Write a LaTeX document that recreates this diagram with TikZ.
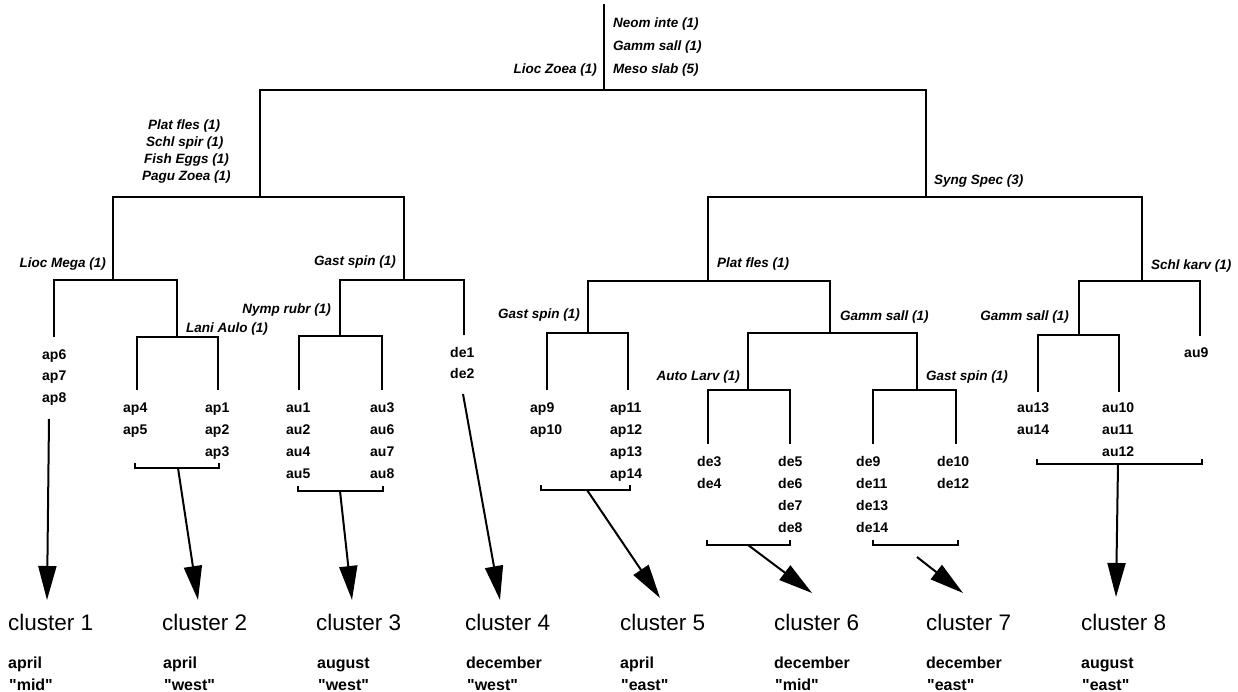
\documentclass[tikz,border=0pt]{standalone}
\usepackage{fontspec}
\usetikzlibrary{arrows.meta}
\newfontfamily\spfont{Liberation Sans}
\newcommand\leafcol[4]{\foreach \t [count=\i from 0] in {#4} \node[leaf] (\t) at (#1, {#2+5+#3*\i}) {\t};}
\begin{document}
\begin{tikzpicture}[x=1pt,y=-1pt,
  tree/.style={line width=2pt},
  arr/.style={line width=2pt,-{Triangle[length=34pt,width=18pt]}},
  lab/.style={font=\spfont\bfseries\itshape\fontsize{13.5}{15}\selectfont,inner sep=0pt},
  labl/.style={lab,anchor=base east},
  labr/.style={lab,anchor=base west},
  leaf/.style={font=\spfont\bfseries\fontsize{14}{16}\selectfont,inner sep=0pt,anchor=base west},
  cl/.style={font=\spfont\fontsize{22.5}{26}\selectfont,inner sep=0pt,anchor=base west},
  mo/.style={font=\spfont\bfseries\fontsize{16}{18}\selectfont,inner sep=0pt,anchor=base west}]
\useasboundingbox (0,0) rectangle (1238,692);
% junctions
\coordinate (Rtop) at (604,4);
\coordinate (R) at (604,90);
\coordinate (nL) at (260,197);
\coordinate (nS) at (926,197);
\coordinate (nLM) at (113,280);
\coordinate (nGS1) at (404,280);
\coordinate (nLA) at (177,337);
\coordinate (nNR) at (340,336);
\coordinate (nPF) at (708,281);
\coordinate (nSK) at (1142,281);
\coordinate (nGS2) at (588,333);
\coordinate (nGM1) at (830,333);
\coordinate (nAL) at (748,390);
\coordinate (nGS3) at (917,390);
\coordinate (nGM2) at (1079,335);
% leg ends
\coordinate (e-ap6) at (54,337);
\coordinate (e-ap4) at (137,390);
\coordinate (e-ap1) at (218,390);
\coordinate (e-au1) at (299,390);
\coordinate (e-au3) at (382,390);
\coordinate (e-de1) at (464,335);
\coordinate (e-ap9) at (547,390);
\coordinate (e-ap11) at (628,390);
\coordinate (e-de3) at (708,444);
\coordinate (e-de5) at (790,444);
\coordinate (e-de9) at (873,444);
\coordinate (e-de10) at (956,444);
\coordinate (e-au13) at (1038,392);
\coordinate (e-au10) at (1119,392);
\coordinate (e-au9) at (1200,336);
% tree
\draw[tree] (Rtop) -- (R);
\draw[tree] (R) -| (nL);
\draw[tree] (R) -| (nS);
\draw[tree] (nL) -| (nLM);
\draw[tree] (nL) -| (nGS1);
\draw[tree] (nLM) -| (e-ap6);
\draw[tree] (nLM) -| (nLA);
\draw[tree] (nLA) -| (e-ap4);
\draw[tree] (nLA) -| (e-ap1);
\draw[tree] (nGS1) -| (nNR);
\draw[tree] (nGS1) -| (e-de1);
\draw[tree] (nNR) -| (e-au1);
\draw[tree] (nNR) -| (e-au3);
\draw[tree] (nS) -| (nPF);
\draw[tree] (nS) -| (nSK);
\draw[tree] (nPF) -| (nGS2);
\draw[tree] (nPF) -| (nGM1);
\draw[tree] (nGS2) -| (e-ap9);
\draw[tree] (nGS2) -| (e-ap11);
\draw[tree] (nGM1) -| (nAL);
\draw[tree] (nGM1) -| (nGS3);
\draw[tree] (nAL) -| (e-de3);
\draw[tree] (nAL) -| (e-de5);
\draw[tree] (nGS3) -| (e-de9);
\draw[tree] (nGS3) -| (e-de10);
\draw[tree] (nSK) -| (nGM2);
\draw[tree] (nSK) -| (e-au9);
\draw[tree] (nGM2) -| (e-au13);
\draw[tree] (nGM2) -| (e-au10);
% species labels
\node[labr] (t1) at (613,28) {Neom inte (1)};
\node[labr] (t2) at (613,51) {Gamm sall (1)};
\node[labr] (t3) at (613,74) {Meso slab (5)};
\node[labl] (t4) at (597,74) {Lioc Zoea (1)};
\node[labr] (l1) at (148,130) {Plat fles (1)};
\node[labr] (l2) at (146,147) {Schl spir (1)};
\node[labr] (l3) at (144,164) {Fish Eggs (1)};
\node[labr] (l4) at (142,181) {Pagu Zoea (1)};
\node[labr] (syng) at (934,185) {Syng Spec (3)};
\node[labl] (liocm) at (106,268) {Lioc Mega (1)};
\node[labl] (gs1) at (396,266) {Gast spin (1)};
\node[labr] (lani) at (186,332) {Lani Aulo (1)};
\node[labl] (nymp) at (331,313) {Nymp rubr (1)};
\node[labr] (platf) at (717,268) {Plat fles (1)};
\node[labl] (gs2) at (580,318) {Gast spin (1)};
\node[labr] (gm1) at (840,320) {Gamm sall (1)};
\node[labl] (autol) at (740,380) {Auto Larv (1)};
\node[labr] (gs3) at (926,380) {Gast spin (1)};
\node[labr] (schlk) at (1151,270) {Schl karv (1)};
\node[labl] (gm2) at (1069,320) {Gamm sall (1)};
% leaves
\leafcol{42}{354}{21.5}{ap6,ap7,ap8}
\leafcol{123}{407}{22}{ap4,ap5}
\leafcol{205}{407}{22}{ap1,ap2,ap3}
\leafcol{286}{407}{22}{au1,au2,au4,au5}
\leafcol{370}{407}{22}{au3,au6,au7,au8}
\leafcol{450}{352}{21}{de1,de2}
\leafcol{530}{407}{22}{ap9,ap10}
\leafcol{610}{407}{22}{ap11,ap12,ap13,ap14}
\leafcol{697}{461}{22}{de3,de4}
\leafcol{778}{461}{22}{de5,de6,de7,de8}
\leafcol{856}{461}{22}{de9,de11,de13,de14}
\leafcol{937}{461}{22}{de10,de12}
\leafcol{1017}{407}{22}{au13,au14}
\leafcol{1102}{407}{22}{au10,au11,au12}
\leafcol{1184}{352}{22}{au9}
% brackets
\draw[tree] (135,463) |- (219,468) -- (219,463);
\draw[tree] (298,486) |- (383,491) -- (383,486);
\draw[tree] (541,485) |- (630,490) -- (630,485);
\draw[tree] (707,540) |- (790,545) -- (790,540);
\draw[tree] (873,540) |- (958,545) -- (958,540);
\draw[tree] (1037,459) |- (1202,464) -- (1202,459);
% arrow ends
\coordinate (s1) at (49,419);   \coordinate (a1) at (47,600);
\coordinate (s2) at (178,468);  \coordinate (a2) at (198,600);
\coordinate (s3) at (340,491);  \coordinate (a3) at (352,600);
\coordinate (s4) at (463,394);  \coordinate (a4) at (500,600);
\coordinate (s5) at (587,490);  \coordinate (a5) at (660,598);
\coordinate (s6) at (748,545);  \coordinate (a6) at (812,593);
\coordinate (s7) at (917,557);  \coordinate (a7) at (963,593);
\coordinate (s8) at (1118,464); \coordinate (a8) at (1116,597);
\foreach \k in {1,...,8} \draw[arr] (s\k) -- (a\k);
% cluster labels
\node[cl] (c1) at (8,630) {cluster 1};
\node[cl] (c2) at (162,630) {cluster 2};
\node[cl] (c3) at (316,630) {cluster 3};
\node[cl] (c4) at (465,630) {cluster 4};
\node[cl] (c5) at (620,630) {cluster 5};
\node[cl] (c6) at (774,630) {cluster 6};
\node[cl] (c7) at (926,630) {cluster 7};
\node[cl] (c8) at (1081,630) {cluster 8};
\node[mo] (m1) at (8,668) {april};
\node[mo] (m2) at (163,668) {april};
\node[mo] (m3) at (317,668) {august};
\node[mo] (m4) at (466,668) {december};
\node[mo] (m5) at (620,668) {april};
\node[mo] (m6) at (774,668) {december};
\node[mo] (m7) at (926,668) {december};
\node[mo] (m8) at (1081,668) {august};
\node[mo] (r1) at (9,690) {"mid"};
\node[mo] (r2) at (164,690) {"west"};
\node[mo] (r3) at (318,690) {"west"};
\node[mo] (r4) at (467,690) {"west"};
\node[mo] (r5) at (621,690) {"east"};
\node[mo] (r6) at (775,690) {"mid"};
\node[mo] (r7) at (927,690) {"east"};
\node[mo] (r8) at (1082,690) {"east"};
\end{tikzpicture}
\end{document}
